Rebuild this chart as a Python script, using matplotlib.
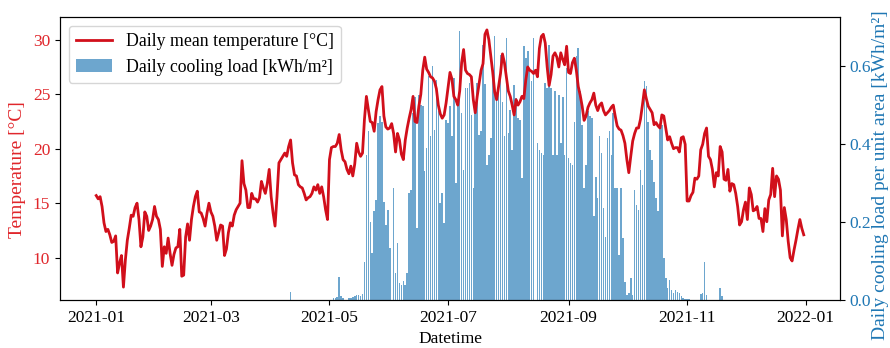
import pandas as pd
import matplotlib.pyplot as plt
import matplotlib.dates as mdates

dates = pd.date_range('2021-01-01', '2021-12-31', freq='D')

# daily mean outdoor temperature, °C
temperature = [
    15.7, 15.4, 15.6, 14.7, 13.2, 12.4, 12.6, 12.1, 11.4, 11.5,
    12.0, 8.6, 9.5, 10.2, 7.3, 9.8, 11.6, 12.7, 13.9, 13.8,
    14.6, 15.0, 13.5, 11.0, 11.9, 14.2, 13.8, 12.5, 12.9, 13.5,
    14.7, 13.8, 13.5, 12.6, 9.2, 11.0, 10.4, 11.8, 10.4, 9.3,
    10.3, 10.9, 11.0, 12.6, 8.3, 8.4, 11.9, 13.1, 11.6, 13.5,
    14.7, 15.6, 16.1, 14.2, 14.1, 13.6, 12.9, 14.1, 15.0, 14.2,
    13.8, 12.9, 11.6, 12.3, 13.0, 12.9, 10.2, 10.8, 12.3, 13.2,
    12.9, 13.9, 14.4, 14.7, 15.0, 18.9, 16.8, 16.2, 14.6, 14.6,
    15.9, 15.4, 15.4, 15.1, 15.5, 17.0, 16.4, 15.9, 16.8, 18.1,
    15.6, 14.1, 12.9, 15.6, 18.7, 19.0, 19.3, 19.6, 19.3, 20.2,
    20.8, 18.7, 17.6, 17.5, 16.7, 16.5, 16.4, 15.9, 15.3, 15.5,
    15.6, 15.9, 16.5, 16.2, 16.7, 15.9, 16.5, 15.6, 14.4, 13.5,
    19.0, 20.1, 20.2, 20.2, 20.5, 21.3, 19.9, 19.0, 18.8, 18.1,
    17.7, 18.4, 17.5, 18.6, 20.5, 19.7, 19.3, 19.6, 22.7, 24.8,
    23.6, 22.5, 22.4, 21.6, 23.4, 24.5, 25.4, 25.7, 23.0, 22.0,
    21.8, 21.9, 22.3, 21.4, 19.7, 21.4, 20.8, 19.5, 19.0, 20.8,
    21.9, 22.8, 23.6, 24.8, 22.5, 22.4, 23.9, 25.0, 27.2, 28.4,
    27.3, 27.0, 26.6, 26.5, 26.2, 25.5, 24.0, 23.2, 22.8, 23.1,
    24.2, 25.6, 27.0, 26.4, 24.8, 24.5, 24.0, 25.3, 27.9, 29.1,
    27.2, 26.9, 26.8, 26.6, 24.5, 23.3, 24.8, 26.0, 27.2, 27.8,
    30.5, 30.9, 30.0, 28.5, 27.0, 25.2, 24.5, 25.7, 26.9, 28.7,
    27.9, 26.6, 25.3, 24.8, 24.0, 23.1, 24.5, 24.0, 24.3, 24.8,
    24.6, 26.3, 27.5, 27.2, 27.1, 26.9, 27.2, 26.6, 29.2, 30.3,
    30.5, 29.7, 27.5, 25.8, 26.8, 28.5, 28.8, 28.4, 27.5, 28.8,
    28.2, 27.7, 29.4, 27.0, 26.9, 27.9, 28.3, 27.2, 25.7, 24.9,
    23.9, 22.6, 23.0, 23.8, 24.2, 24.5, 25.1, 24.0, 23.5, 24.0,
    24.2, 23.5, 23.1, 23.3, 23.5, 23.8, 24.0, 23.0, 22.1, 21.8,
    21.7, 21.2, 20.5, 19.0, 17.8, 19.3, 20.7, 21.4, 21.9, 21.9,
    22.7, 24.0, 25.4, 24.6, 23.9, 23.6, 23.3, 22.2, 22.4, 22.1,
    21.9, 23.1, 23.0, 21.9, 20.8, 21.1, 20.5, 20.0, 20.1, 20.1,
    19.7, 21.0, 21.1, 20.4, 15.2, 15.2, 15.7, 16.0, 17.3, 17.2,
    17.5, 19.9, 20.4, 21.4, 21.9, 19.3, 19.0, 18.1, 16.5, 17.8,
    17.5, 20.2, 19.7, 17.2, 17.1, 18.1, 16.1, 16.8, 16.7, 15.9,
    14.7, 13.0, 13.3, 14.4, 15.1, 13.5, 16.4, 15.8, 14.3, 14.4,
    14.7, 13.6, 13.6, 12.4, 14.5, 13.3, 15.3, 15.8, 18.2, 15.6,
    17.5, 17.2, 16.2, 12.0, 14.6, 13.5, 11.5, 10.0, 9.7, 10.7,
    11.6, 12.6, 13.5, 12.7, 12.1,
]

# daily cooling load per unit floor area, kWh/m²
cooling_load = [
    0, 0, 0, 0, 0, 0, 0, 0, 0, 0,
    0, 0, 0, 0, 0, 0, 0, 0, 0, 0,
    0, 0, 0, 0, 0, 0, 0, 0, 0, 0,
    0, 0, 0, 0, 0, 0, 0, 0, 0, 0,
    0, 0, 0, 0, 0, 0, 0, 0, 0, 0,
    0, 0, 0, 0, 0, 0, 0, 0, 0, 0,
    0, 0, 0, 0, 0, 0, 0, 0, 0, 0,
    0, 0, 0, 0, 0, 0, 0, 0, 0, 0,
    0, 0, 0, 0, 0, 0, 0, 0, 0, 0,
    0, 0, 0, 0, 0, 0, 0, 0, 0, 0,
    0.021, 0, 0, 0, 0, 0, 0, 0, 0, 0,
    0, 0, 0, 0, 0, 0, 0, 0, 0, 0,
    0, 0, 0.004, 0.006, 0.008, 0.060, 0.010, 0.005, 0, 0,
    0.004, 0.005, 0.008, 0.010, 0.012, 0.012, 0.010, 0.015, 0.098, 0.372,
    0.432, 0.200, 0.120, 0.227, 0.256, 0.453, 0.470, 0.457, 0.252, 0.192,
    0.231, 0.133, 0.000, 0.286, 0.068, 0.145, 0.043, 0.038, 0.049, 0.038,
    0.068, 0.273, 0.282, 0.479, 0.521, 0.184, 0.526, 0.500, 0.496, 0.329,
    0.389, 0.573, 0.419, 0.598, 0.436, 0.564, 0.483, 0.248, 0.273, 0.197,
    0.462, 0.453, 0.496, 0.419, 0.568, 0.299, 0.508, 0.690, 0.479, 0.333,
    0.543, 0.543, 0.556, 0.474, 0.286, 0.504, 0.556, 0.423, 0.432, 0.654,
    0.553, 0.346, 0.372, 0.414, 0.590, 0.675, 0.526, 0.547, 0.628, 0.508,
    0.419, 0.671, 0.427, 0.487, 0.385, 0.551, 0.517, 0.466, 0.462, 0.312,
    0.650, 0.620, 0.637, 0.594, 0.560, 0.671, 0.000, 0.402, 0.385, 0.376,
    0.372, 0.556, 0.543, 0.654, 0.543, 0.372, 0.534, 0.372, 0.526, 0.402,
    0.521, 0.372, 0.594, 0.363, 0.350, 0.346, 0.457, 0.624, 0.645, 0.534,
    0.449, 0.286, 0.346, 0.483, 0.470, 0.466, 0.214, 0.316, 0.261, 0.419,
    0.376, 0.235, 0.162, 0.415, 0.432, 0.372, 0.479, 0.286, 0.286, 0.115,
    0.286, 0.158, 0.047, 0.013, 0.017, 0.056, 0.013, 0.282, 0.244, 0.231,
    0.333, 0.295, 0.560, 0.547, 0.457, 0.385, 0.359, 0.303, 0.261, 0.227,
    0.444, 0.449, 0.107, 0.056, 0.030, 0.051, 0.026, 0.017, 0.026, 0.021,
    0.017, 0.009, 0.006, 0.003, 0.003, 0.003, 0, 0, 0, 0,
    0, 0.015, 0.017, 0.097, 0.012, 0, 0, 0, 0, 0,
    0, 0.030, 0.010, 0, 0, 0, 0, 0, 0, 0,
    0, 0, 0, 0, 0, 0, 0, 0, 0, 0,
    0, 0, 0, 0, 0, 0, 0, 0, 0, 0,
    0, 0, 0, 0, 0, 0, 0, 0, 0, 0,
    0, 0, 0, 0, 0,
]

plt.rcParams['font.family'] = ['Liberation Serif', 'DejaVu Serif']
plt.rcParams['font.size'] = 12.5

red = '#d10f1b'
blue = '#1f77b4'

fig = plt.figure(figsize=(8.9, 3.48), dpi=100)
ax1 = fig.add_axes([0.0674, 0.138, 0.8764, 0.813])
ax2 = ax1.twinx()

bars = ax2.bar(dates, cooling_load, width=0.8, color=blue, alpha=0.65,
               label='Daily cooling load [kWh/m²]')
line, = ax1.plot(dates, temperature, color=red, lw=2,
                 label='Daily mean temperature [°C]')

# keep the temperature line above the bars
ax1.set_zorder(ax2.get_zorder() + 1)
ax1.patch.set_visible(False)

ax1.set_ylabel('Temperature [°C]', color='#e0262b', fontsize=14)
ax1.yaxis.set_label_coords(-0.044, 0.46)
ax1.tick_params(axis='y', labelcolor='#e0262b')
ax2.set_ylabel('Daily cooling load per unit area [kWh/m²]', color=blue,
               fontsize=14)
ax2.yaxis.set_label_coords(1.041, 0.44)
ax2.tick_params(axis='y', labelcolor=blue)
ax2.set_yticks([0.0, 0.2, 0.4, 0.6])

ax1.xaxis.set_major_locator(mdates.MonthLocator(bymonth=[1, 3, 5, 7, 9, 11]))
ax1.xaxis.set_major_formatter(mdates.DateFormatter('%Y-%m'))
ax1.set_xlabel('Datetime')

ax1.legend(handles=[line, bars], loc='upper left', fontsize=12.8)

fig.savefig('out.png', dpi=100)
